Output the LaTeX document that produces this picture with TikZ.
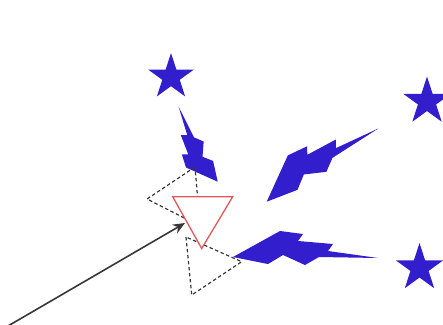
\documentclass[tikz,border=0pt]{standalone}
\usetikzlibrary{shapes.geometric,arrows.meta}
\definecolor{boltblue}{RGB}{50,30,205}
\definecolor{tri}{RGB}{226,88,88}
\definecolor{dash}{RGB}{55,55,55}
\begin{document}
\begin{tikzpicture}[x=1pt,y=-1pt,
  starnode/.style={star,star points=5,star point ratio=2.618,fill=boltblue,draw=none,inner sep=0pt},
  boltfill/.style={fill=boltblue,draw=none},
  dashtri/.style={draw=dash,dash pattern=on 3.5pt off 2.5pt,line width=1.2pt},
  redtri/.style={draw=tri,fill=white,line width=1.3pt},
  arr/.style={draw=dash,line width=1.6pt,-{Stealth[length=12pt,width=10pt]}}]
\useasboundingbox (0,0) rectangle (443,324);
\newcommand\boltpath{(0,0) -- (47,-26) -- (70,-23) -- (65,-16) -- (100,-13) -- (95,-6) -- (145,1) -- (86,0) -- (72,8) -- (50,-2) -- (35,7) -- cycle}
\node[starnode,minimum size=48pt] (s1) at (171,77) {};
\node[starnode,minimum size=50pt] (s2) at (427,101.5) {};
\node[starnode,minimum size=50pt] (s3) at (419.5,268) {};
\begin{scope}[shift={(233,257)}]
  \fill[boltfill] \boltpath;
\end{scope}
\begin{scope}[shift={(266.7,201.7)},rotate=33.7,scale=0.92,yscale=1.12]
  \fill[boltfill] \boltpath;
\end{scope}
\begin{scope}[shift={(217.7,181.7)},rotate=118.1,scale=0.584,yscale=1.4]
  \fill[boltfill] \boltpath;
\end{scope}
\coordinate (d1a) at (195,167);
\coordinate (d1b) at (147,199);
\coordinate (d1c) at (200,226);
\coordinate (d2a) at (186,237);
\coordinate (d2b) at (191.7,295);
\coordinate (d2c) at (241.7,261.7);
\draw[dashtri] (d1a) -- (d1b) -- (d1c) -- cycle;
\draw[dashtri] (d2a) -- (d2b) -- (d2c) -- cycle;
\coordinate (r1) at (172.7,196.7);
\coordinate (r2) at (232.7,196.7);
\coordinate (r3) at (201.7,248.5);
\draw[redtri] (r1) -- (r2) -- (r3) -- cycle;
\coordinate (as) at (8,326);
\coordinate (at) at (185,223);
\draw[arr] (as) -- (at);
\end{tikzpicture}
\end{document}
